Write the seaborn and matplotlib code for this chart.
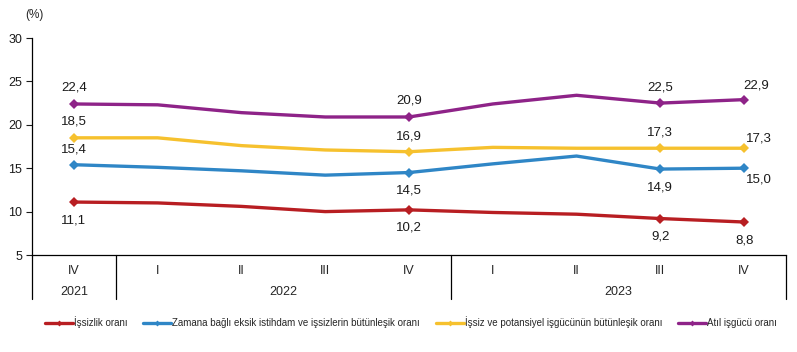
import matplotlib
matplotlib.use('Agg')
import matplotlib.pyplot as plt
import matplotlib.transforms as mtransforms
from matplotlib.lines import Line2D
import numpy as np
import pandas as pd
import seaborn as sns

# data
quarters = ['IV', 'I', 'II', 'III', 'IV', 'I', 'II', 'III', 'IV']
years = ['2021', '2022', '2023']
year_spans = [(0, 0), (1, 4), (5, 8)]

issizlik = [11.1, 11.0, 10.6, 10.0, 10.2, 9.9, 9.7, 9.2, 8.8]
zamana_bagli = [15.4, 15.1, 14.7, 14.2, 14.5, 15.5, 16.4, 14.9, 15.0]
potansiyel = [18.5, 18.5, 17.6, 17.1, 16.9, 17.4, 17.3, 17.3, 17.3]
atil = [22.4, 22.3, 21.4, 20.9, 20.9, 22.4, 23.4, 22.5, 22.9]

series_names = ['İşsizlik oranı',
                'Zamana bağlı eksik istihdam ve işsizlerin bütünleşik oranı',
                'İşsiz ve potansiyel işgücünün bütünleşik oranı',
                'Atıl işgücü oranı']
colors = ['#B81E22', '#2F86C6', '#F6C12E', '#8E2388']
labeled = [0, 4, 7, 8]

df = pd.DataFrame({'x': np.arange(len(quarters))})
for name, vals in zip(series_names, [issizlik, zamana_bagli, potansiyel, atil]):
    df[name] = vals
long = df.melt(id_vars='x', var_name='seri', value_name='oran')

sns.set_style('white')
plt.rcParams['font.family'] = ['Liberation Sans', 'DejaVu Sans']

fig = plt.figure(figsize=(7.97, 3.52), dpi=100)
ax = fig.add_axes([32 / 797, 1 - 255 / 352, 754 / 797, 217 / 352])

for name, col in zip(series_names, colors):
    sub = long[long['seri'] == name]
    sns.lineplot(data=sub, x='x', y='oran', ax=ax, color=col, linewidth=2.4,
                 marker='D', markersize=5.5, markeredgewidth=0, markevery=labeled,
                 legend=False)

# data labels (offsets in points)
offsets = {
    'İşsizlik oranı': [(0, -13), (0, -13), (0, -13), (0, -13)],
    'Zamana bağlı eksik istihdam ve işsizlerin bütünleşik oranı': [(0, 11), (0, -13), (0, -13), (11, -8)],
    'İşsiz ve potansiyel işgücünün bütünleşik oranı': [(0, 12), (0, 11), (0, 11), (11, 7)],
    'Atıl işgücü oranı': [(0, 12), (0, 12), (0, 11), (9, 10)],
}
for name, vals in zip(series_names, [issizlik, zamana_bagli, potansiyel, atil]):
    for i, off in zip(labeled, offsets[name]):
        ax.annotate(f'{vals[i]:.1f}'.replace('.', ','), (i, vals[i]), xytext=off,
                    textcoords='offset points', ha='center', va='center',
                    fontsize=9.5, color='#1a1a1a')

ax.set_xlim(-0.5, len(quarters) - 0.5)
ax.set_ylim(5, 30)
ax.set_yticks(np.arange(5, 31, 5))
ax.tick_params(axis='y', direction='out', length=4, width=0.8, labelsize=9,
               left=True, pad=3, colors='#1a1a1a')
ax.set_xticks([])
ax.set_xlabel('')
ax.set_ylabel('')
for side in ['top', 'right']:
    ax.spines[side].set_visible(False)
for side in ['left', 'bottom']:
    ax.spines[side].set_color('#000000')
    ax.spines[side].set_linewidth(0.9)

# two-level category axis
trans = mtransforms.blended_transform_factory(ax.transData, ax.transAxes)
for i, q in enumerate(quarters):
    ax.text(i, -0.072, q, transform=trans, ha='center', va='center', fontsize=9)
for y, (a, b) in zip(years, year_spans):
    ax.text((a + b) / 2, -0.172, y, transform=trans, ha='center', va='center', fontsize=9)
for xd in [-0.5, 0.5, 4.5, 8.5]:
    ax.plot([xd, xd], [0, -0.205], transform=trans, color='black', lw=0.9, clip_on=False)

fig.text(25 / 797, 1 - 15 / 352, '(%)', ha='left', va='center', fontsize=8.5)

handles = [Line2D([0], [0], color=c, lw=2.4, marker='D', markersize=3, markeredgewidth=0)
           for c in colors]
fig.legend(handles, series_names, loc='center', bbox_to_anchor=(411 / 797, 1 - 322 / 352),
           ncol=4, frameon=False, fontsize=7, handlelength=2.9, handletextpad=0.1,
           columnspacing=1.6)

fig.savefig('out.png', dpi=100)
